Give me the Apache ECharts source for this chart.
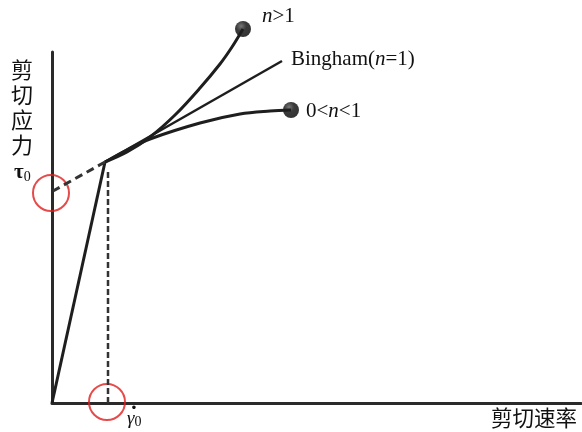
<!DOCTYPE html>
<html><head><meta charset="utf-8">
<script src="https://cdn.jsdelivr.net/npm/echarts@6/dist/echarts.min.js"></script>
<style>html,body{margin:0;padding:0;background:#fff}#c{width:582px;height:432px}</style>
</head><body><div id="c"></div>
<script>
// Schematic data (arbitrary units: shear rate vs shear stress)
var linearPart = [[0, 0], [53, 241]];
var tauDashed = [[53, 241], [1, 212]];
var gammaDashed = [[56, 231], [56, 0]];
var shearThickening = [[53, 241], [75, 251], [98, 266], [123, 288], [148, 315], [168, 339], [180, 356], [191, 374]];
var bingham = [[53, 241], [230, 342]];
var shearThinning = [[53, 241], [73, 252], [98, 264], [148, 280], [188, 289], [218, 292], [239, 293]];
var endDots = [[191, 374], [239, 293]];
var redCircles = [[-1, 210], [55, 1]];

var chart = echarts.init(document.getElementById('c'));
var lineCol = '#1e1e1e';
var serif = '"Liberation Serif","DejaVu Serif",serif';
var cjk = '"Noto Sans CJK SC",sans-serif';
function lab(text, x, y) {
  return {type: 'text', x: x, y: y, style: {text: text, verticalAlign: 'middle', align: 'left',
    rich: {i: {font: 'italic 21px ' + serif, fill: '#111'}, r: {font: '21px ' + serif, fill: '#111'}}}};
}
chart.setOption({
  animation: false,
  grid: {left: 52, right: 1, top: 52, bottom: 29},
  xAxis: {type: 'value', min: 0, max: 529, axisLine: {lineStyle: {color: '#2a2a2a', width: 3}},
    axisTick: {show: false}, axisLabel: {show: false}, splitLine: {show: false}},
  yAxis: {type: 'value', min: 0, max: 351, axisLine: {show: true, lineStyle: {color: '#2a2a2a', width: 3}},
    axisTick: {show: false}, axisLabel: {show: false}, splitLine: {show: false}},
  series: [
    {type: 'line', data: linearPart, showSymbol: false, lineStyle: {color: lineCol, width: 3}, clip: false},
    {type: 'line', data: tauDashed, showSymbol: false, lineStyle: {color: '#333', width: 3, type: [8, 5]}, clip: false},
    {type: 'line', data: gammaDashed, showSymbol: false, lineStyle: {color: '#333', width: 2.5, type: [6, 3]}, clip: false},
    {type: 'line', data: shearThickening, smooth: 0.35, showSymbol: false, lineStyle: {color: lineCol, width: 3}, clip: false},
    {type: 'line', data: bingham, showSymbol: false, lineStyle: {color: lineCol, width: 2.5}, clip: false},
    {type: 'line', data: shearThinning, smooth: 0.35, showSymbol: false, lineStyle: {color: lineCol, width: 3}, clip: false},
    {type: 'scatter', data: endDots, symbolSize: 16, clip: false,
      itemStyle: {color: {type: 'radial', x: 0.38, y: 0.32, r: 0.7, colorStops: [{offset: 0, color: '#555'}, {offset: 0.45, color: '#0a0a0a'}, {offset: 1, color: '#000'}]}}},
    {type: 'scatter', data: redCircles, symbolSize: 36, clip: false,
      itemStyle: {color: 'rgba(0,0,0,0)', borderColor: '#e01e1e', borderWidth: 2}}
  ],
  graphic: [
    {type: 'text', left: 11, top: 57, style: {text: '剪\n切\n应\n力', font: '22px ' + cjk, fill: '#111', lineHeight: 25}},
    {type: 'text', x: 14, y: 173, style: {text: '{t|τ}{s|0}', verticalAlign: 'middle', rich: {t: {font: 'bold 21px ' + serif, fill: '#111'}, s: {font: '14px ' + serif, fill: '#111', padding: [8, 0, 0, 0]}}}},
    {type: 'text', x: 127, y: 419, style: {text: '{t|γ}{s|0}', verticalAlign: 'middle', rich: {t: {font: 'italic 19px ' + serif, fill: '#111'}, s: {font: '14px ' + serif, fill: '#111', padding: [6, 0, 0, 0]}}}},
    {type: 'text', x: 134, y: 408, style: {text: '·', align: 'center', verticalAlign: 'middle', font: 'bold 22px ' + serif, fill: '#111'}},
    {type: 'text', left: 491, top: 407, style: {text: '剪切速率', font: '21.5px ' + cjk, fill: '#111'}},
    lab('{i|n}{r|>1}', 262, 16),
    lab('{r|Bingham(}{i|n}{r|=1)}', 291, 59),
    lab('{r|0<}{i|n}{r|<1}', 306, 111)
  ]
});
</script></body></html>
